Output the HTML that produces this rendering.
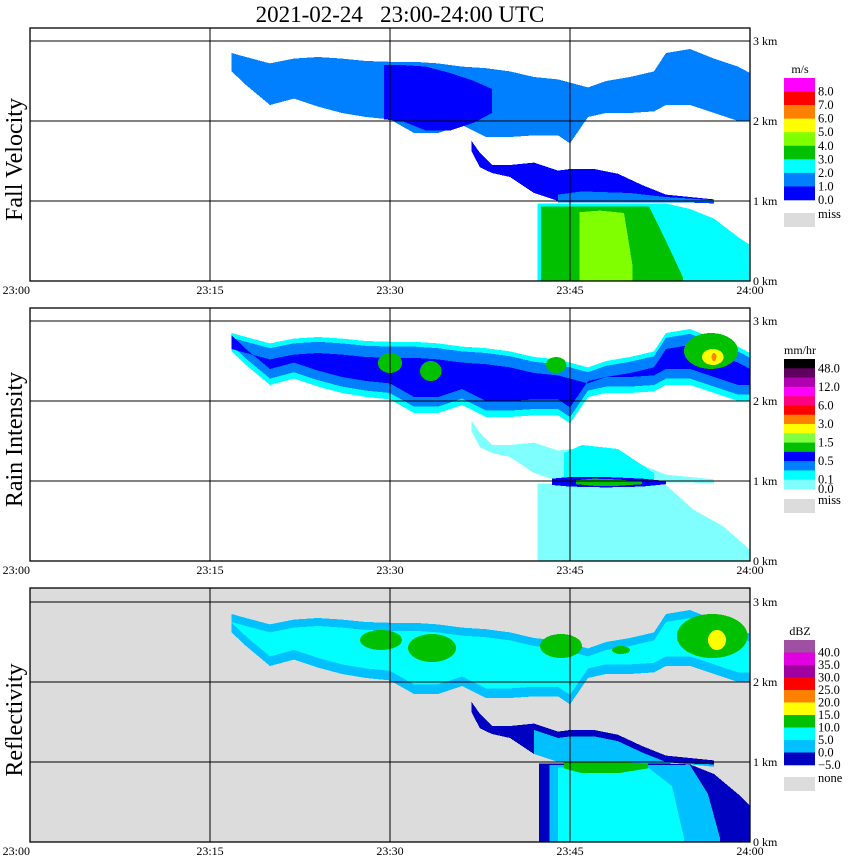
<!DOCTYPE html>
<html><head><meta charset="utf-8">
<style>
body{margin:0;background:#fff;}
svg{display:block;font-family:"Liberation Serif",serif;}
</style></head>
<body>
<svg id="chart" width="850" height="868" viewBox="0 0 850 868" xmlns="http://www.w3.org/2000/svg">
<text x="400" y="22" font-size="23" text-anchor="middle" style="white-space:pre" xml:space="preserve">2021-02-24   23:00-24:00 UTC</text>
<g id="panels"></g>
</svg>
<script>
// ---- data (minutes after 23:00, heights in km) ----
const timeTicks = [0, 15, 30, 45, 60];
const timeLabels = ["23:00", "23:15", "23:30", "23:45", "24:00"];
const heightTicks = [0, 1, 2, 3];
const heightLabels = ["0 km", "1 km", "2 km", "3 km"];

const upT   = [16.8, 18, 20, 22, 24, 26, 28, 30, 32, 34, 36, 38, 40, 42, 44, 45, 46.5, 48, 50, 52, 53, 55, 57, 59, 60];
const upTop = [2.85, 2.8, 2.72, 2.78, 2.8, 2.78, 2.75, 2.74, 2.74, 2.72, 2.68, 2.66, 2.62, 2.55, 2.52, 2.48, 2.42, 2.5, 2.55, 2.62, 2.85, 2.9, 2.78, 2.68, 2.6];
const upBot = [2.62, 2.45, 2.2, 2.28, 2.18, 2.1, 2.05, 2.02, 1.85, 1.85, 1.95, 1.8, 1.8, 1.82, 1.82, 1.72, 2.05, 2.1, 2.1, 2.12, 2.2, 2.2, 2.1, 2.0, 2.0];

const fvCoreT   = [29.5, 31, 33, 35, 37, 38.5];
const fvCoreTop = [2.7, 2.7, 2.68, 2.6, 2.5, 2.4];
const fvCoreBot = [2.02, 2.0, 1.88, 1.88, 1.98, 2.1];

const loT   = [36.8, 37.5, 38.5, 40, 42, 44, 45, 47, 49, 51, 53, 55, 57];
const loTop = [1.75, 1.6, 1.45, 1.45, 1.48, 1.38, 1.4, 1.4, 1.34, 1.2, 1.08, 1.05, 1.02];
const loBot = [1.62, 1.42, 1.35, 1.3, 1.1, 1.0, 0.98, 0.98, 0.98, 0.98, 0.98, 0.98, 0.97];

const fvLoInT   = [44, 46, 50, 53, 57];
const fvLoInTop = [1.08, 1.12, 1.1, 1.05, 1.01];
const fvLoInBot = [0.98, 0.98, 0.98, 0.98, 0.98];

const rainT   = [42.3, 44, 50, 53, 55, 57, 59, 60];
const rainTop = [0.97, 0.97, 0.97, 0.97, 0.9, 0.78, 0.55, 0.45];
const greenT   = [42.6, 51.6, 53, 54.4];
const greenTop = [0.93, 0.93, 0.5, 0.05];
const limeT   = [45.8, 47.5, 49.5, 50.2];
const limeTop = [0.86, 0.88, 0.85, 0.2];

const riOutT   = [42.3, 44, 50, 53, 55.3, 57.8, 60];
const riOutTop = [0.97, 0.97, 0.97, 0.95, 0.64, 0.43, 0.14];
const riCyT   = [44.5, 46, 49, 52];
const riCyTop = [1.35, 1.45, 1.4, 1.1];
const riCyBot = [0.98, 0.98, 0.98, 0.98];
const riBandT   = [43.5, 45, 48, 51, 53];
const riBandTop = [1.03, 1.05, 1.05, 1.03, 1.0];
const riBandBot = [0.95, 0.93, 0.92, 0.93, 0.96];
const riGrT   = [45.5, 47, 49, 51];
const riGrTop = [1.01, 1.03, 1.02, 0.99];
const riGrBot = [0.96, 0.94, 0.94, 0.96];

const dzLoT   = [42.4, 43, 53, 55, 57, 59, 60];
const dzLoTop = [0.98, 0.98, 0.98, 0.97, 0.85, 0.6, 0.45];
const dzSkyT   = [43.3, 55, 56.5, 57.5];
const dzSkyTop = [0.96, 0.96, 0.6, 0.05];
const dzCyT   = [44.0, 51.5, 53.5, 54.5];
const dzCyTop = [0.93, 0.93, 0.7, 0.05];
const dzGrT   = [44.5, 46, 49, 51.5];
const dzGrTop = [1.0, 1.0, 1.0, 0.98];
const dzGrBot = [0.92, 0.86, 0.86, 0.92];

// blobs: [t0, t1, h0, h1]
const riGreenBlobs = [[29, 31, 2.35, 2.6], [32.5, 34.3, 2.25, 2.5], [43, 44.7, 2.35, 2.55], [54.5, 59, 2.4, 2.85]];
const riYellowBlobs = [[56, 57.8, 2.45, 2.65]];
const riRedBlobs = [[56.8, 57.2, 2.5, 2.6]];
const dzGreenBlobs = [[27.5, 31, 2.4, 2.65], [31.5, 35.5, 2.25, 2.6], [42.5, 46, 2.3, 2.6], [53.9, 59.8, 2.3, 2.85], [48.5, 50, 2.35, 2.45]];
const dzYellowBlobs = [[56.5, 58, 2.4, 2.65]];

const fvColors = ["#ff00ff","#ff0000","#ff8000","#ffff00","#80ff00","#00c000","#00ffff","#0080ff","#0000ff"];
const fvLabels = ["8.0","7.0","6.0","5.0","4.0","3.0","2.0","1.0","0.0"];
const riColors = ["#000000","#600060","#b000b0","#ff00ff","#ff0080","#ff0000","#ff8000","#ffff00","#80ff40","#00c000","#0000ff","#0080ff","#00ffff","#80ffff"];
const riLabels = ["48.0","","12.0","","6.0","","3.0","","1.5","","0.5","","0.1","0.0"];
const dzColors = ["#a050a0","#e000e0","#a000a0","#ff0000","#ff8000","#ffff00","#00c000","#00ffff","#00c0ff","#0000c0"];
const dzLabels = ["40.0","35.0","30.0","25.0","20.0","15.0","10.0","5.0","0.0","\u22125.0"];

const NS = "http://www.w3.org/2000/svg";
const X0 = 30, X1 = 750, PXKM = 80;
const xs = t => X0 + t * (X1 - X0) / 60;
const panels = [
  {name:"fall-velocity", title:"Fall Velocity", top:28, base:281, bg:"#fff"},
  {name:"rain-intensity", title:"Rain Intensity", top:308, base:561, bg:"#fff"},
  {name:"reflectivity", title:"Reflectivity", top:588, base:842, bg:"#dcdcdc"}
];
const root = document.getElementById("panels");
function mk(tag, attrs, parent){ const e=document.createElementNS(NS,tag); for(const k in attrs) e.setAttribute(k,attrs[k]); parent.appendChild(e); return e; }

function band(g, p, T, top, bot, color, name){
  const ys = h => p.base - h*PXKM;
  let pts = T.map((t,i)=>xs(t)+","+ys(top[i]));
  for(let i=T.length-1;i>=0;i--) pts.push(xs(T[i])+","+ys(bot?bot[i]:0));
  const e = mk("polygon",{points:pts.join(" "),fill:color},g);
  
  
}
function shrink(arr, d){ return arr.map(v=>v-d); }
function blobs(g, p, list, color, name){
  const ys = h => p.base - h*PXKM;
  list.forEach(b=>{
    const e = mk("ellipse",{cx:(xs(b[0])+xs(b[1]))/2, cy:(ys(b[2])+ys(b[3]))/2, rx:(xs(b[1])-xs(b[0]))/2, ry:(ys(b[2])-ys(b[3]))/2, fill:color},g);
    
    
  });
}
function colorbar(g, top, bottom, colors, labels, unit, miss, missLabel){
  const h=(bottom-top)/colors.length;
  const u = mk("text",{x:800,y:top-5,"font-size":12,"text-anchor":"middle"},g); u.textContent=unit;
   
  colors.forEach((c,i)=>{
    const r=mk("rect",{x:784,y:top+i*h,width:31,height:h+0.3,fill:c},g);
     
    if(labels[i]){
      const t=mk("text",{x:818,y:top+(i+1)*h+4,"font-size":12.5},g); t.textContent=labels[i];
       
    }
  });
  const m=mk("rect",{x:784,y:miss,width:31,height:14,fill:"#dcdcdc"},g);
   
  const mt=mk("text",{x:818,y:miss+5,"font-size":12.5},g); mt.textContent=missLabel;
   
}

panels.forEach((p,pi)=>{
  const g = mk("g",{},root);
  
  
  const bg = mk("rect",{x:X0,y:p.top,width:X1-X0,height:p.base-p.top,fill:p.bg},g);
   
  const d = mk("g",{"shape-rendering":"crispEdges"},g);
   
  if(pi===0){
    band(d,p,upT,upTop,upBot,"#0080ff","upper-layer");
    band(d,p,fvCoreT,fvCoreTop,fvCoreBot,"#0000ff","upper-core");
    band(d,p,loT,loTop,loBot,"#0000ff","lower-streak");
    band(d,p,fvLoInT,fvLoInTop,fvLoInBot,"#0080ff","lower-streak-inner");
    band(d,p,rainT,rainTop,null,"#00ffff","rain-shaft");
    band(d,p,greenT,greenTop,null,"#00c000","rain-green");
    band(d,p,limeT,limeTop,null,"#80ff00","rain-lime");
  } else if(pi===1){
    band(d,p,upT,upTop,upBot,"#00ffff","upper-layer");
    band(d,p,upT,shrink(upTop,0.06),upBot.map(v=>v+0.08),"#0080ff","upper-mid");
    band(d,p,upT,shrink(upTop,0.2),upBot.map(v=>v+0.2),"#0000ff","upper-core");
    blobs(d,p,riGreenBlobs,"#00c000","green-cell");
    blobs(d,p,riYellowBlobs,"#ffff00","yellow-cell");
    blobs(d,p,riRedBlobs,"#ff8000","orange-cell");
    band(d,p,loT,loTop,loBot,"#80ffff","lower-streak");
    band(d,p,riOutT,riOutTop,null,"#80ffff","rain-shaft");
    band(d,p,riCyT,riCyTop,riCyBot,"#00ffff","melting-cyan");
    band(d,p,riBandT,riBandTop,riBandBot,"#0000ff","melting-band");
    band(d,p,riGrT,riGrTop,riGrBot,"#00c000","melting-green");
  } else {
    band(d,p,upT,upTop,upBot,"#00c0ff","upper-layer");
    band(d,p,upT,shrink(upTop,0.1),upBot.map(v=>v+0.12),"#00ffff","upper-core");
    blobs(d,p,dzGreenBlobs,"#00c000","green-cell");
    blobs(d,p,dzYellowBlobs,"#ffff00","yellow-cell");
    band(d,p,loT,loTop,loBot,"#0000c0","lower-streak");
    band(d,p,loT.slice(4),shrink(loTop.slice(4),0.08),loBot.slice(4),"#00c0ff","lower-streak-inner");
    band(d,p,dzLoT,dzLoTop,null,"#0000c0","rain-outer");
    band(d,p,dzSkyT,dzSkyTop,null,"#00c0ff","rain-mid");
    band(d,p,dzCyT,dzCyTop,null,"#00ffff","rain-core");
    band(d,p,dzGrT,dzGrTop,dzGrBot,"#00c000","bright-band");
  }
  // grid
  const gg = mk("g",{stroke:"#000","stroke-width":1.3,"shape-rendering":"crispEdges"},g);
   
  heightTicks.forEach((h,i)=>{
    const y=p.base-h*PXKM;
    if(h>0) mk("line",{x1:X0,x2:X1,y1:y,y2:y},gg);
    const t=mk("text",{x:X1+3,y:y+4,"font-size":12},g); t.textContent=heightLabels[i];
     
  });
  timeTicks.forEach((tm,i)=>{
    const x=xs(tm);
    if(tm>0&&tm<60) mk("line",{x1:x,x2:x,y1:p.top,y2:p.base},gg);
    const t=mk("text",{x:x,y:p.base+13,"font-size":12,"text-anchor":i===0?"end":"middle"},g); t.textContent=timeLabels[i];
     
  });
  const fr=mk("rect",{x:X0,y:p.top,width:X1-X0,height:p.base-p.top,fill:"none",stroke:"#000","stroke-width":1.3},g);
   
  const cy=(p.top+p.base)/2+5;
  const yt=mk("text",{x:22,y:cy,"font-size":24,"text-anchor":"middle",transform:`rotate(-90 22 ${cy})`},g);
  yt.textContent=p.title;
   
  const cb=mk("g",{},g);
   
  if(pi===0) colorbar(cb,78,200,fvColors,fvLabels,"m/s",213,"miss");
  if(pi===1) colorbar(cb,359,489,riColors,riLabels,"mm/hr",499,"miss");
  if(pi===2) colorbar(cb,640,765,dzColors,dzLabels,"dBZ",777,"none");
});
</script>
</body></html>
